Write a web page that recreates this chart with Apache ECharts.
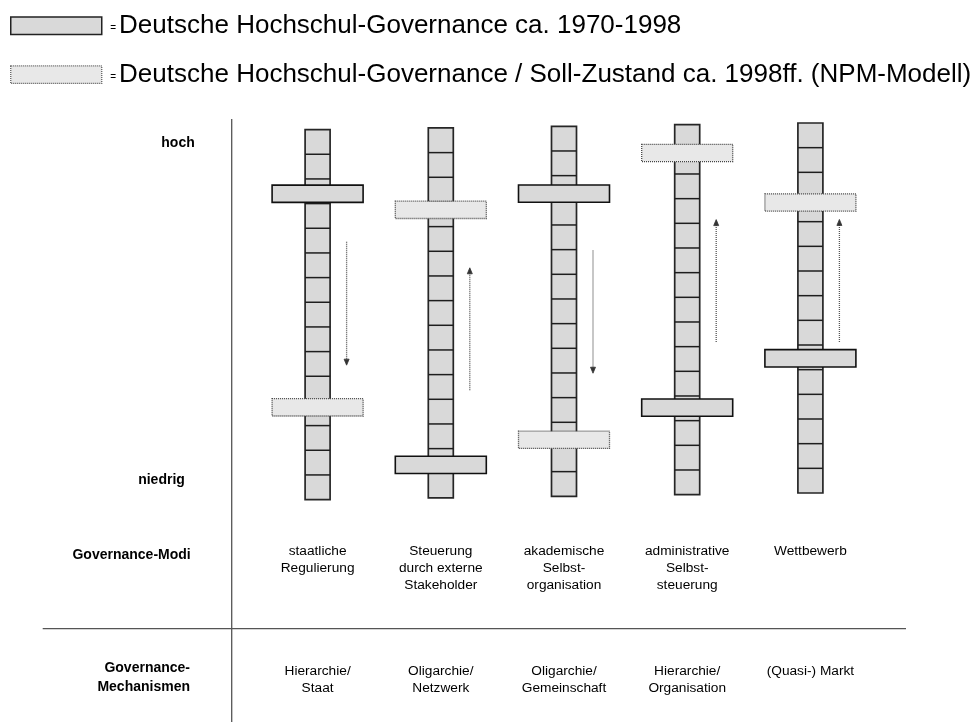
<!DOCTYPE html>
<html>
<head>
<meta charset="utf-8">
<script src="https://cdn.jsdelivr.net/npm/echarts@6/dist/echarts.min.js"></script>
<style>
html,body{margin:0;padding:0;background:#fff;}
#chart{width:980px;height:722px;}
</style>
</head>
<body>
<div id="chart"></div>
<script>
// ---- data ----
const modi = ['staatliche\nRegulierung', 'Steuerung\ndurch externe\nStakeholder', 'akademische\nSelbst-\norganisation', 'administrative\nSelbst-\nsteuerung', 'Wettbewerb'];
const mechanismen = ['Hierarchie/\nStaat', 'Oligarchie/\nNetzwerk', 'Oligarchie/\nGemeinschaft', 'Hierarchie/\nOrganisation', '(Quasi-) Markt'];
const skalaStufen = 15;
const skalaHoch = 'hoch';
const skalaNiedrig = 'niedrig';
const zeilenTitel = ['Governance-Modi', 'Governance-\nMechanismen'];
const legendNamen = [
  'Deutsche Hochschul-Governance ca. 1970-1998',
  'Deutsche Hochschul-Governance / Soll-Zustand ca. 1998ff. (NPM-Modell)'
];
const governance1970 = [12.4, 1.34, 12.27, 3.53, 5.46];
const sollZustand1998 = [3.74, 11.68, 2.29, 13.85, 11.78];
const pfeilVon = [10.45, 4.37, 9.96, 6.19, 6.12];
const pfeilBis = [5.45, 9.33, 4.99, 11.15, 11.09];

// ---- rendering ----
const FONT = "'Liberation Sans', Arial, sans-serif";
const TILT = -1.65; // slight slant of the original drawing (px per column)
const COL_W = 25, BAR_W = 91, BAR_H = 17.3;

function shiftOf(i) { return TILT * (i - 2); }

function renderColumn(params, api) {
  const i = api.value(0), n = api.value(1);
  const s = shiftOf(i);
  const b = api.coord([i, 0]);
  const t = api.coord([i, n]);
  const x = b[0] - COL_W / 2;
  const children = [{
    type: 'rect',
    shape: { x: x, y: t[1] + s, width: COL_W, height: b[1] - t[1] },
    style: { fill: '#d9d9d9', stroke: '#262626', lineWidth: 1.7 }
  }];
  for (let k = 1; k < n; k++) {
    const p = api.coord([i, k]);
    children.push({
      type: 'line',
      shape: { x1: x, y1: p[1] + s, x2: x + COL_W, y2: p[1] + s },
      style: { stroke: '#1e1e1e', lineWidth: 1.5 }
    });
  }
  return { type: 'group', children: children };
}

function makeBarRenderer(fill, stroke, dash, lw) {
  return function (params, api) {
    const i = api.value(0);
    const p = api.coord([i, api.value(1)]);
    const s = shiftOf(i);
    return {
      type: 'rect',
      shape: { x: p[0] - BAR_W / 2, y: p[1] + s - BAR_H / 2, width: BAR_W, height: BAR_H },
      style: { fill: fill, stroke: stroke, lineWidth: lw, lineDash: dash }
    };
  };
}

function renderArrow(params, api) {
  const i = api.value(0);
  const s = shiftOf(i);
  const p1 = api.coord([i, api.value(1)]);
  const p2 = api.coord([i, api.value(2)]);
  const x = p1[0] + 29;
  const y1 = p1[1] + s, y2 = p2[1] + s;
  const dir = y2 > y1 ? 1 : -1;
  return {
    type: 'group',
    children: [
      { type: 'line', shape: { x1: x, y1: y1, x2: x, y2: y2 - dir * 4 },
        style: { stroke: '#555', lineWidth: 1.3, lineDash: [1, 1] } },
      { type: 'polygon', shape: { points: [[x, y2], [x - 2.5, y2 - dir * 6], [x + 2.5, y2 - dir * 6]] },
        style: { fill: '#333', stroke: '#333', lineWidth: 0.8 } }
    ]
  };
}

const chart = echarts.init(document.getElementById('chart'), null, { renderer: 'canvas' });

const option = {
  backgroundColor: '#fff',
  animation: false,
  textStyle: { fontFamily: FONT },
  legend: {
    orient: 'vertical',
    left: 10,
    top: 12.7,
    padding: 0,
    itemWidth: 91,
    itemHeight: 17.5,
    itemGap: 23,
    selectedMode: false,
    data: [
      { name: legendNamen[0], icon: 'rect',
        itemStyle: { color: '#d9d9d9', borderColor: '#222', borderWidth: 1.5, borderType: 'solid' } },
      { name: legendNamen[1], icon: 'rect',
        itemStyle: { color: '#e8e8e8', borderColor: '#555', borderWidth: 1.2, borderType: [1, 1] } }
    ],
    formatter: function (name) { return '{eq|=}{t|' + name + '}'; },
    textStyle: {
      color: '#000',
      fontFamily: FONT,
      rich: {
        eq: { fontSize: 10, lineHeight: 10, padding: [6, 3, 0, 3.5], color: '#000', fontFamily: FONT },
        t: { fontSize: 26, lineHeight: 17, color: '#000', fontFamily: FONT }
      }
    }
  },
  grid: { left: 256, top: 126.3, width: 616, height: 370 },
  xAxis: [
    {
      type: 'category', data: modi, position: 'bottom',
      axisLine: { show: false }, axisTick: { show: false },
      axisLabel: { interval: 0, margin: 46, color: '#000', fontSize: 13.7, lineHeight: 17.3, fontFamily: FONT }
    },
    {
      type: 'category', data: mechanismen, position: 'bottom', offset: 0,
      axisLine: { show: false }, axisTick: { show: false },
      axisLabel: { interval: 0, margin: 166, color: '#000', fontSize: 13.7, lineHeight: 17, fontFamily: FONT }
    }
  ],
  yAxis: {
    type: 'value', min: 0, max: skalaStufen, show: false
  },
  graphic: [
    { type: 'line', shape: { x1: 231.7, y1: 119, x2: 231.7, y2: 722 }, style: { stroke: '#555', lineWidth: 1.3 } },
    { type: 'line', shape: { x1: 42.7, y1: 628.7, x2: 906, y2: 628.7 }, style: { stroke: '#555', lineWidth: 1.3 } },
    { type: 'text', x: 178, y: 143.3,
      style: { text: skalaHoch, font: 'bold 14px ' + FONT, fill: '#000', align: 'center', verticalAlign: 'middle' } },
    { type: 'text', x: 161.5, y: 480,
      style: { text: skalaNiedrig, font: 'bold 14px ' + FONT, fill: '#000', align: 'center', verticalAlign: 'middle' } },
    { type: 'text', x: 190.7, y: 555,
      style: { text: zeilenTitel[0], font: 'bold 14px ' + FONT, fill: '#000', align: 'right', verticalAlign: 'middle' } },
    { type: 'text', x: 190, y: 677.5,
      style: { text: zeilenTitel[1], font: 'bold 14px ' + FONT, lineHeight: 18.5, fill: '#000', align: 'right', verticalAlign: 'middle' } }
  ],
  series: [
    {
      type: 'custom', name: 'Skala', silent: true,
      renderItem: renderColumn,
      data: modi.map(function (m, i) { return [i, skalaStufen]; }),
      encode: { x: 0, y: 1 }
    },
    {
      type: 'custom', name: legendNamen[0],
      itemStyle: { color: '#d9d9d9' },
      renderItem: makeBarRenderer('#d9d9d9', '#111', null, 1.6),
      data: governance1970.map(function (v, i) { return [i, v]; }),
      encode: { x: 0, y: 1 }
    },
    {
      type: 'custom', name: legendNamen[1],
      itemStyle: { color: '#e8e8e8' },
      renderItem: makeBarRenderer('#e8e8e8', '#444', [1, 1], 1.3),
      data: sollZustand1998.map(function (v, i) { return [i, v]; }),
      encode: { x: 0, y: 1 }
    },
    {
      type: 'custom', name: 'Pfeile', silent: true,
      renderItem: renderArrow,
      data: pfeilVon.map(function (v, i) { return [i, v, pfeilBis[i]]; }),
      encode: { x: 0, y: [1, 2] }
    }
  ]
};
chart.setOption(option);
</script>
</body>
</html>
